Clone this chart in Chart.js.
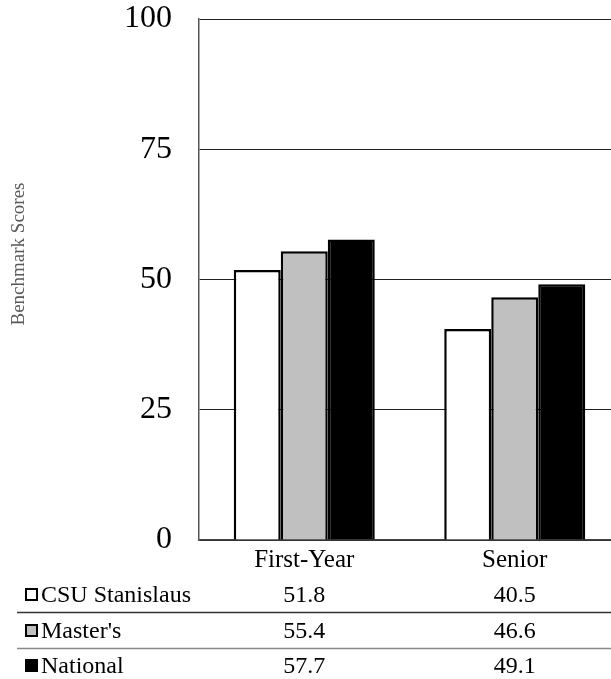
<!DOCTYPE html>
<html>
<head>
<meta charset="utf-8">
<script src="https://cdn.jsdelivr.net/npm/chart.js@4"></script>
<style>
html,body{margin:0;padding:0;overflow:hidden;background:#fff;}
#wrap{width:620px;height:679px;position:relative;}
</style>
</head>
<body>
<div id="wrap"><canvas id="c"></canvas></div>
<script>
const categories = ["First-Year", "Senior"];
const seriesNames = ["CSU Stanislaus", "Master's", "National"];
const csuValues = [51.8, 40.5];
const mastersValues = [55.4, 46.6];
const nationalValues = [57.7, 49.1];
const yTicks = [0, 25, 50, 75, 100];
const yTitle = "Benchmark Scores";

const fills = ["#ffffff", "#c0c0c0", "#000000"];
const serif = "'Liberation Serif', 'Times New Roman', serif";

const tablePlugin = {
  id: 'tablePlugin',
  afterDraw(chart) {
    const ctx = chart.ctx;
    const x = chart.scales.x;
    ctx.save();
    // y title
    ctx.save();
    ctx.translate(19, 254);
    ctx.rotate(-Math.PI / 2);
    ctx.font = "19px " + serif;
    ctx.fillStyle = "#595959";
    ctx.textAlign = "center";
    ctx.textBaseline = "middle";
    ctx.fillText(yTitle, 0, 0);
    ctx.restore();

    const baselines = [602, 638, 673];
    const datas = chart.data.datasets;
    ctx.font = "24px " + serif;
    ctx.textBaseline = "alphabetic";
    datas.forEach((ds, i) => {
      const y = baselines[i];
      // legend square
      ctx.fillStyle = fills[i];
      ctx.fillRect(25, y - 14, 13, 13);
      ctx.strokeStyle = "#000";
      ctx.lineWidth = 2;
      ctx.strokeRect(26, y - 13, 11, 11);
      ctx.fillStyle = "#000";
      ctx.textAlign = "left";
      ctx.fillText(ds.label, 41, y);
      ctx.textAlign = "center";
      ds.data.forEach((v, j) => {
        ctx.fillText(v.toFixed(1), x.getPixelForValue(j), y);
      });
    });
    // separator lines
    ctx.lineWidth = 1.5;
    ctx.strokeStyle = "#333";
    ctx.beginPath(); ctx.moveTo(17, 612.5); ctx.lineTo(chart.width, 612.5); ctx.stroke();
    ctx.strokeStyle = "#888";
    ctx.beginPath(); ctx.moveTo(17, 648.5); ctx.lineTo(chart.width, 648.5); ctx.stroke();
    ctx.restore();
  }
};

new Chart(document.getElementById('c'), {
  type: 'bar',
  data: {
    labels: categories,
    datasets: [
      { label: seriesNames[0], data: csuValues, backgroundColor: fills[0], borderColor: "#000", borderWidth: 2.5 },
      { label: seriesNames[1], data: mastersValues, backgroundColor: fills[1], borderColor: "#000", borderWidth: 2.5 },
      { label: seriesNames[2], data: nationalValues, backgroundColor: fills[2], borderColor: "#000", borderWidth: 2.5 }
    ]
  },
  options: {
    responsive: true,
    maintainAspectRatio: false,
    animation: false,
    layout: { padding: { top: 19, right: 0, left: 0, bottom: 0 } },
    plugins: { legend: { display: false }, tooltip: { enabled: false } },
    datasets: { bar: { barPercentage: 1, categoryPercentage: 0.67 } },
    scales: {
      x: {
        grid: { display: false, drawTicks: false },
        border: { display: true, color: "#444", width: 1.5 },
        ticks: { font: { family: serif, size: 25 }, color: "#000", padding: 5 },
        afterFit(s) { s.height = 139; s.paddingLeft = 0; s.paddingRight = 0; }
      },
      y: {
        min: 0, max: 100,
        afterBuildTicks(s) { s.ticks = yTicks.map(v => ({ value: v })); },
        grid: { color: "#222", lineWidth: 1, drawTicks: false },
        border: { display: true, color: "#555", width: 1.5 },
        ticks: { font: { family: serif, size: 32 }, color: "#000", padding: 27 },
        afterFit(s) { s.width = 199; s.paddingTop = 0; s.paddingBottom = 0; }
      }
    }
  },
  plugins: [tablePlugin]
});
</script>
</body>
</html>
